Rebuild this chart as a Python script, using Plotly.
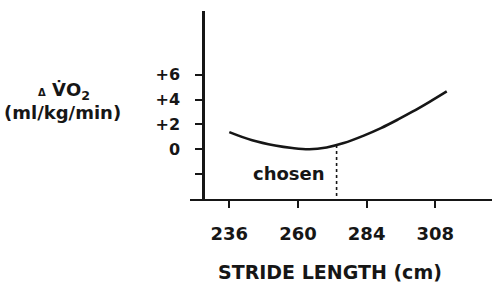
import plotly.graph_objects as go

# Data
stride = [236, 244, 252, 258, 264, 270, 276, 283, 289, 295, 300, 306, 312]
delta_vo2 = [1.38, 0.72, 0.30, 0.10, 0.0, 0.15, 0.50, 1.10, 1.70, 2.40, 3.02, 3.82, 4.66]
x_ticks = [236, 260, 284, 308]
y_ticks = [6, 4, 2, 0, -2]
y_tick_text = ["+6", "+4", "+2", "0", ""]
chosen_stride = 273.5
chosen_value = 0.35

FONT = "DejaVu Sans"
INK = "#161616"

W, H = 500, 286
PL, PR, PT, PB = 190, 492, 11, 199   # plot box in pixels
pw = PR - PL
ph = PB - PT
px_per_x = 2.861
x0 = 236 - (229.3 - PL) / px_per_x
x1 = x0 + pw / px_per_x
px_per_y = 12.43
y0 = -4
y1 = y0 + ph / px_per_y


def px(x):
    return x / W


def py(y):
    return 1 - y / H


fig = go.Figure()
fig.add_trace(go.Scatter(x=stride, y=delta_vo2, mode="lines",
                         line=dict(color=INK, width=2.6, shape="spline", smoothing=1.0),
                         hoverinfo="skip", showlegend=False))

fig.add_shape(type="line", xref="x", yref="y",
              x0=chosen_stride, x1=chosen_stride, y0=chosen_value, y1=y0,
              line=dict(color=INK, width=1.6, dash="dot"))

fig.add_annotation(x=px(289), y=py(173.5), xref="paper", yref="paper", text="<b>chosen</b>",
                   showarrow=False, font=dict(family=FONT, size=18, color=INK),
                   xanchor="center", yanchor="middle")

fig.add_annotation(x=px(64), y=py(91), xref="paper", yref="paper",
                   text='<b><span style="font-size:10px">Δ</span> V̇O<sub>2</sub></b>',
                   showarrow=False, font=dict(family=FONT, size=18, color=INK),
                   xanchor="center", yanchor="middle")
fig.add_annotation(x=px(62), y=py(112), xref="paper", yref="paper",
                   text="<b>(ml/kg/min)</b>",
                   showarrow=False, font=dict(family=FONT, size=18, color=INK),
                   xanchor="center", yanchor="middle")
fig.add_annotation(x=px(330), y=py(272), xref="paper", yref="paper",
                   text="<b>STRIDE LENGTH (cm)</b>",
                   showarrow=False, font=dict(family=FONT, size=19, color=INK),
                   xanchor="center", yanchor="middle")

fig.update_layout(
    width=W, height=H,
    margin=dict(l=0, r=0, t=0, b=0, pad=0, autoexpand=False),
    paper_bgcolor="white", plot_bgcolor="white",
    xaxis=dict(domain=[px(PL), px(PR)], range=[x0, x1], showgrid=False, zeroline=False,
               automargin=False, tickangle=0,
               showline=True, linecolor=INK, linewidth=2,
               ticks="outside", ticklen=7, tickwidth=2, tickcolor=INK,
               tickvals=x_ticks, ticktext=[f"<b>{v}</b>" for v in x_ticks],
               tickfont=dict(family=FONT, size=18, color=INK),
               ticklabelstandoff=10),
    yaxis=dict(domain=[py(PB), py(PT)], range=[y0, y1], showgrid=False, zeroline=False,
               automargin=False,
               anchor="free", position=px(203),
               showline=True, linecolor=INK, linewidth=2.5,
               ticks="outside", ticklen=7, tickwidth=2, tickcolor=INK,
               tickvals=y_ticks, ticktext=[f"<b>{t}</b>" for t in y_tick_text],
               tickfont=dict(family=FONT, size=16, color=INK),
               ticklabelstandoff=12),
)

fig.write_html("out.html")
